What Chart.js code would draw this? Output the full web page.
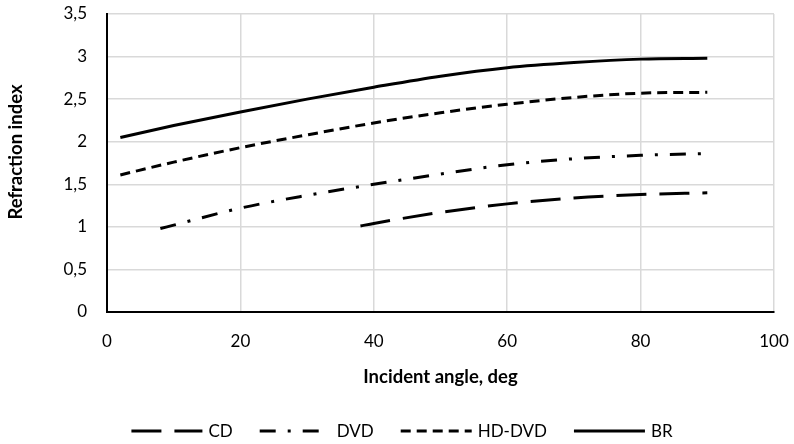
<!DOCTYPE html>
<html>
<head>
<meta charset="utf-8">
<script src="https://cdn.jsdelivr.net/npm/chart.js@4/dist/chart.umd.min.js"></script>
<style>
html,body{margin:0;padding:0;background:#fff;}
#wrap{width:794px;height:444px;}
</style>
</head>
<body>
<div id="wrap"><canvas id="c" width="794" height="444"></canvas></div>
<script>
const seriesNames = ["CD", "DVD", "HD-DVD", "BR"];
const cdAngles = [38, 40, 50, 60, 70, 80, 90];
const cdValues = [1.01, 1.04, 1.17, 1.27, 1.34, 1.38, 1.40];
const dvdAngles = [8, 10, 20, 30, 40, 50, 60, 70, 80, 90];
const dvdValues = [0.98, 1.02, 1.22, 1.37, 1.50, 1.62, 1.73, 1.80, 1.84, 1.86];
const hdAngles = [2, 10, 20, 30, 40, 50, 60, 70, 80, 90];
const hdValues = [1.61, 1.76, 1.93, 2.08, 2.22, 2.34, 2.44, 2.52, 2.57, 2.58];
const brAngles = [2, 10, 20, 30, 40, 50, 60, 70, 80, 90];
const brValues = [2.05, 2.19, 2.35, 2.50, 2.64, 2.77, 2.87, 2.93, 2.97, 2.98];
const yTitle = "Refraction index";
const xTitle = "Incident angle, deg";

const toPts = (xs, ys) => xs.map((x, i) => ({x: x, y: ys[i]}));
const FONT = "Lato, 'Open Sans', sans-serif";

const base = {
  showLine: true, fill: false, pointRadius: 0, pointHoverRadius: 0,
  borderColor: '#000', backgroundColor: '#000', borderWidth: 3,
  cubicInterpolationMode: 'monotone'
};

// Custom bottom legend (Excel-like layout), centred row, plus y-axis title
const legendPlugin = {
  id: 'xlLegend',
  afterDraw(chart) {
    const ctx = chart.ctx;
    const cy = 431, sampleW = 71, textGap = 6, itemGap = 27, centerX = 402;
    ctx.save();
    ctx.font = "17px " + FONT;
    ctx.textBaseline = 'middle';
    ctx.fillStyle = '#000';
    const ds = chart.data.datasets;
    const widths = ds.map(d => sampleW + textGap + ctx.measureText(d.label).width);
    const total = widths.reduce((a, b) => a + b, 0) + itemGap * (ds.length - 1);
    let x = centerX - total / 2;
    ds.forEach((d, i) => {
      ctx.save();
      ctx.strokeStyle = '#000';
      ctx.lineWidth = d.borderWidth;
      ctx.setLineDash(d.borderDash || []);
      ctx.beginPath();
      ctx.moveTo(x, cy);
      ctx.lineTo(x + sampleW, cy);
      ctx.stroke();
      ctx.restore();
      ctx.fillText(d.label, x + sampleW + textGap, cy + 1);
      x += widths[i] + itemGap;
    });
    ctx.restore();

    // y-axis title
    ctx.save();
    ctx.translate(16, 152);
    ctx.rotate(-Math.PI / 2);
    ctx.font = "bold 18.5px " + FONT;
    ctx.textAlign = 'center';
    ctx.textBaseline = 'middle';
    ctx.fillStyle = '#000';
    ctx.fillText(yTitle, 0, 0);
    ctx.restore();
  }
};

new Chart(document.getElementById('c'), {
  type: 'scatter',
  data: {
    datasets: [
      Object.assign({}, base, {label: seriesNames[0], data: toPts(cdAngles, cdValues), borderDash: [30, 13]}),
      Object.assign({}, base, {label: seriesNames[1], data: toPts(dvdAngles, dvdValues), borderDash: [16, 12, 3, 12]}),
      Object.assign({}, base, {label: seriesNames[2], data: toPts(hdAngles, hdValues), borderDash: [10, 6]}),
      Object.assign({}, base, {label: seriesNames[3], data: toPts(brAngles, brValues), borderDash: []})
    ]
  },
  plugins: [legendPlugin],
  options: {
    responsive: false,
    animation: false,
    events: [],
    layout: {padding: {left: 0, right: 20, top: 14, bottom: 0}},
    plugins: {
      tooltip: {enabled: false},
      legend: {display: false}
    },
    scales: {
      x: {
        type: 'linear', min: 0, max: 100,
        ticks: {stepSize: 20, color: '#000', padding: 19, font: {family: FONT, size: 17}},
        grid: {color: '#d9d9d9', lineWidth: 1.5, drawTicks: false},
        border: {color: '#000', width: 2},
        title: {display: true, text: xTitle, color: '#000',
                font: {family: FONT, size: 18.5, weight: 'bold'}, padding: {top: 20, bottom: 56}},
        afterFit: s => { s.height = 132; s.paddingLeft = 0; s.paddingRight = 0; }
      },
      y: {
        type: 'linear', min: 0, max: 3.5,
        ticks: {stepSize: 0.5, color: '#000', padding: 20, font: {family: FONT, size: 17},
                callback: v => String(v).replace('.', ',')},
        grid: {color: '#d9d9d9', lineWidth: 1.5, drawTicks: false},
        border: {color: '#000', width: 2},
        title: {display: false},
        afterFit: s => { s.width = 107; s.paddingTop = 0; s.paddingBottom = 0; }
      }
    }
  }
});
</script>
</body>
</html>
